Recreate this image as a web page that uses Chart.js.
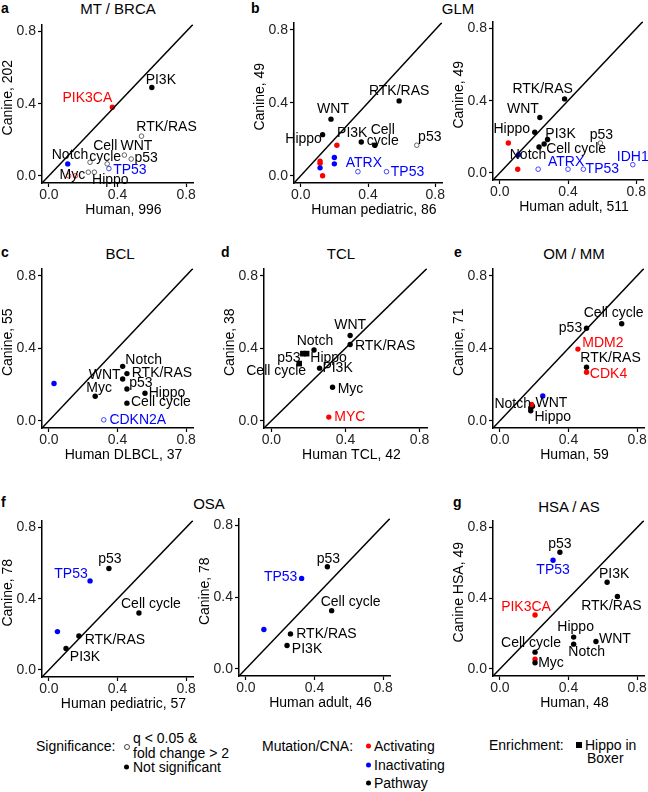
<!DOCTYPE html>
<html>
<head>
<meta charset="utf-8">
<script src="https://cdn.jsdelivr.net/npm/chart.js@4.4.1/dist/chart.umd.min.js"></script>
<style>
  body { margin: 0; width: 648px; height: 792px; position: relative; overflow: hidden;
         background: #fff; font-family: "Liberation Sans", Arial, sans-serif; }
  canvas { position: absolute; }
  .t { position: absolute; font-size: 14px; line-height: 1; color: #000; white-space: nowrap; transform: translateY(-50%); }
  .c { transform: translate(-50%, -50%); font-size: 15px; }
  .b { font-weight: bold; }
  .dot { position: absolute; width: 5px; height: 5px; border-radius: 50%; transform: translateY(-50%); }
</style>
</head>
<body>

<!-- panel letters + titles -->
<div class="t b" style="left:1px;top:8px">a</div>
<div class="t c" style="left:118px;top:8px">MT / BRCA</div>
<div class="t b" style="left:251px;top:8px">b</div>
<div class="t c" style="left:458px;top:8px">GLM</div>
<div class="t b" style="left:1px;top:252px">c</div>
<div class="t c" style="left:120px;top:253px">BCL</div>
<div class="t b" style="left:221px;top:252px">d</div>
<div class="t c" style="left:341px;top:253px">TCL</div>
<div class="t b" style="left:454px;top:252px">e</div>
<div class="t c" style="left:574px;top:253px">OM / MM</div>
<div class="t b" style="left:1px;top:502px">f</div>
<div class="t c" style="left:209px;top:503px">OSA</div>
<div class="t b" style="left:453px;top:502px">g</div>
<div class="t c" style="left:569px;top:506px">HSA / AS</div>

<!-- legend -->
<div class="t" style="left:36px;top:746px">Significance:</div>
<div class="dot" style="left:124px;top:747px;width:4px;height:4px;border:1px solid #444"></div>
<div class="t" style="left:133px;top:738px">q &lt; 0.05 &amp;</div>
<div class="t" style="left:133px;top:753px">fold change &gt; 2</div>
<div class="dot" style="left:124px;top:767px;background:#000"></div>
<div class="t" style="left:133px;top:767px">Not significant</div>

<div class="t" style="left:262px;top:746px">Mutation/CNA:</div>
<div class="dot" style="left:366px;top:746px;background:#f00"></div>
<div class="t" style="left:374px;top:746px">Activating</div>
<div class="dot" style="left:366px;top:765px;background:#00f"></div>
<div class="t" style="left:374px;top:765px">Inactivating</div>
<div class="dot" style="left:366px;top:783px;background:#000"></div>
<div class="t" style="left:374px;top:783px">Pathway</div>

<div class="t" style="left:489px;top:745px">Enrichment:</div>
<div class="dot" style="left:576px;top:745px;width:6px;height:6px;border-radius:0;background:#000"></div>
<div class="t" style="left:585px;top:745px">Hippo in</div>
<div class="t" style="left:587px;top:758px">Boxer</div>

<script>
// ── Data ─────────────────────────────────────────────────────
// kind: P = pathway, A = activating gene, I = inactivating gene
// sig:  1 = q < 0.05 & fold change > 2 (open circle)

const tickValues = [0, 0.4, 0.8];

// a – MT / BRCA
const aNames  = ['PI3K', 'PIK3CA', 'RTK/RAS', 'WNT', 'p53', 'Cell\ncycle', 'Notch', 'TP53', 'Myc', 'Hippo', '', '', ''];
const aHuman  = [0.60, 0.37, 0.54, 0.44, 0.48, 0.34, 0.24, 0.35, 0.23, 0.265, 0.11, 0.115, 0.155];
const aCanine = [0.49, 0.38, 0.22, 0.115, 0.093, 0.066, 0.075, 0.04, 0.02, 0.02, 0.066, 0.0, 0.0];
const aKind   = ['P', 'A', 'P', 'P', 'P', 'P', 'P', 'I', 'P', 'P', 'I', 'A', 'A'];
const aSig    = [0, 0, 1, 1, 1, 1, 1, 1, 1, 1, 0, 1, 1];

// b – GLM, pediatric
const bNames  = ['RTK/RAS', 'WNT', 'Hippo', 'PI3K', 'Cell\ncycle', 'p53', 'ATRX', 'TP53', '', '', '', '', '', '', ''];
const bHuman  = [0.585, 0.18, 0.13, 0.36, 0.44, 0.69, 0.34, 0.51, 0.215, 0.115, 0.115, 0.13, 0.20, 0.20, 0.115];
const bCanine = [0.41, 0.31, 0.225, 0.185, 0.167, 0.167, 0.022, 0.022, 0.167, 0.08, 0.068, 0.0, 0.10, 0.065, 0.043];
const bKind   = ['P', 'P', 'P', 'P', 'P', 'P', 'I', 'I', 'A', 'A', 'A', 'A', 'I', 'I', 'I'];
const bSig    = [0, 0, 0, 0, 0, 1, 1, 1, 0, 0, 0, 0, 0, 0, 0];

// b – GLM, adult
const b2Names  = ['RTK/RAS', 'WNT', 'Hippo', 'PI3K', 'Cell cycle', 'Notch', 'p53', 'ATRX', '', 'TP53', 'IDH1', '', '', ''];
const b2Human  = [0.38, 0.235, 0.205, 0.28, 0.26, 0.23, 0.59, 0.225, 0.40, 0.49, 0.78, 0.11, 0.05, 0.105];
const b2Canine = [0.41, 0.307, 0.225, 0.185, 0.16, 0.143, 0.165, 0.02, 0.02, 0.02, 0.045, 0.10, 0.165, 0.02];
const b2Kind   = ['P', 'P', 'P', 'P', 'P', 'P', 'P', 'I', 'I', 'I', 'I', 'I', 'A', 'A'];
const b2Sig    = [0, 0, 0, 0, 0, 0, 1, 1, 1, 1, 1, 0, 0, 0];

// c – BCL
const cNames  = ['Notch', 'RTK/RAS', 'WNT', 'Myc', 'p53', 'Hippo', 'Cell cycle', 'CDKN2A', ''];
const cHuman  = [0.43, 0.455, 0.43, 0.27, 0.455, 0.56, 0.455, 0.32, 0.03];
const cCanine = [0.30, 0.26, 0.23, 0.135, 0.175, 0.152, 0.097, 0.005, 0.205];
const cKind   = ['P', 'P', 'P', 'P', 'P', 'P', 'P', 'I', 'I'];
const cSig    = [0, 0, 0, 0, 0, 0, 0, 1, 0];

// d – TCL
const dNames  = ['WNT', 'RTK/RAS', 'Notch', 'p53', 'Hippo', 'Cell cycle', 'PI3K', 'Myc', 'MYC'];
const dHuman  = [0.425, 0.425, 0.23, 0.17, 0.19, 0.15, 0.26, 0.33, 0.31];
const dCanine = [0.47, 0.42, 0.39, 0.37, 0.37, 0.315, 0.29, 0.185, 0.02];
const dKind   = ['P', 'P', 'P', 'P', 'P', 'P', 'P', 'P', 'A'];
const dSig    = [0, 0, 0, 0, 0, 0, 0, 0, 0];
const dBoxer  = [0, 0, 0, 1, 1, 1, 0, 0, 0];

// e – OM / MM
const eNames  = ['Cell cycle', 'p53', 'MDM2', 'RTK/RAS', 'CDK4', '', 'Notch', 'WNT', 'Hippo', ''];
const eHuman  = [0.71, 0.505, 0.455, 0.505, 0.505, 0.25, 0.18, 0.19, 0.18, 0.185];
const eCanine = [0.535, 0.51, 0.395, 0.295, 0.267, 0.137, 0.07, 0.08, 0.055, 0.09];
const eKind   = ['P', 'P', 'A', 'P', 'A', 'I', 'P', 'P', 'P', 'A'];
const eSig    = [0, 0, 0, 0, 0, 0, 0, 0, 0, 0];

// f – OSA, pediatric
const fNames  = ['p53', 'TP53', 'Cell cycle', '', 'RTK/RAS', 'PI3K'];
const fHuman  = [0.35, 0.24, 0.525, 0.05, 0.175, 0.10];
const fCanine = [0.57, 0.50, 0.32, 0.215, 0.19, 0.12];
const fKind   = ['P', 'I', 'P', 'I', 'P', 'P'];
const fSig    = [0, 0, 0, 0, 0, 0];

// f – OSA, adult
const f2Names  = ['p53', 'TP53', 'Cell cycle', '', 'RTK/RAS', 'PI3K'];
const f2Human  = [0.475, 0.325, 0.50, 0.105, 0.26, 0.24];
const f2Canine = [0.57, 0.505, 0.325, 0.22, 0.195, 0.13];
const f2Kind   = ['P', 'I', 'P', 'I', 'P', 'P'];
const f2Sig    = [0, 0, 0, 0, 0, 0];

// g – HSA / AS
const gNames  = ['p53', 'TP53', 'PI3K', 'RTK/RAS', 'PIK3CA', 'Hippo', 'Notch', 'WNT', 'Cell cycle', '', 'Myc'];
const gHuman  = [0.35, 0.31, 0.625, 0.685, 0.205, 0.43, 0.43, 0.56, 0.205, 0.205, 0.205];
const gCanine = [0.66, 0.615, 0.49, 0.41, 0.305, 0.18, 0.14, 0.155, 0.095, 0.055, 0.035];
const gKind   = ['P', 'I', 'P', 'P', 'A', 'P', 'P', 'P', 'P', 'A', 'P'];
const gSig    = [0, 0, 0, 0, 0, 0, 0, 0, 0, 0, 0];

// ── Layout (label offsets in px from the point) ──────────────
const aLabelAt  = [[9,-7], [-25,-9], [25,-9], [12,-9], [15,-1], [-2,-8], [-20,-7], [21,2], [-16,3], [16,8]];
const bLabelAt  = [[0,-10], [2,-10], [-19,5], [-9,-9], [8,-6], [13,-8], [6,-9], [21,0]];
const b2LabelAt = [[-22,-10], [-17,-8], [-23,-3], [13,-5], [32,5], [-11,8], [1,-8], [28,-7], null, [19,0], [0,-8]];
const cLabelAt  = [[21,-6], [35,0], [-18,-4], [4,-8], [14,-6], [22,0], [34,-1], [34,0]];
const dLabelAt  = [[0,-10], [35,2], [1,-9], [-14,4], [22,4], [-23,8], [18,0], [18,2], [21,0]];
const eLabelAt  = [[-8,-11], [-16,0], [25,-6], [24,-9], [22,2], null, [-18,-4], [19,-3], [22,6]];
const fLabelAt  = [[1,-9], [-19,-7], [12,-9], null, [36,4], [19,9]];
const f2LabelAt = [[1,-8], [-21,-1], [19,-8], null, [36,0], [20,4]];
const gLabelAt  = [[0,-8], [0,10], [7,-8], [-6,10], [-9,-8], [2,-10], [13,8], [19,-2], [-4,-9], null, [16,0]];

const AXIS_MIN = -0.04, AXIS_MAX = 0.84;
const Y_AXIS_W = 42, X_AXIS_H = 36, PAD_TOP = 8, PAD_RIGHT = 22;
const COLOURS = { P: '#000000', A: '#ff0000', I: '#0000ff' };
const OPEN_COLOURS = { P: '#555555', A: '#ff2020', I: '#3030ff' };
const FONT = '14px "Liberation Sans", Arial, sans-serif';

const panels = [
  { box: [42, 22, 193, 183],  x: 'Human, 996',          y: 'Canine, 202',    names: aNames,  hx: aHuman,  cy: aCanine,  kind: aKind,  sig: aSig,  at: aLabelAt },
  { box: [294, 20, 442, 183], x: 'Human pediatric, 86', y: 'Canine, 49',     names: bNames,  hx: bHuman,  cy: bCanine,  kind: bKind,  sig: bSig,  at: bLabelAt },
  { box: [493, 19, 643, 180], x: 'Human adult, 511',    y: 'Canine, 49',     names: b2Names, hx: b2Human, cy: b2Canine, kind: b2Kind, sig: b2Sig, at: b2LabelAt },
  { box: [42, 266, 193, 428], x: 'Human DLBCL, 37',     y: 'Canine, 55',     names: cNames,  hx: cHuman,  cy: cCanine,  kind: cKind,  sig: cSig,  at: cLabelAt },
  { box: [264, 266, 427, 428],x: 'Human TCL, 42',       y: 'Canine, 38',     names: dNames,  hx: dHuman,  cy: dCanine,  kind: dKind,  sig: dSig,  at: dLabelAt, boxer: dBoxer },
  { box: [493, 266, 644, 428],x: 'Human, 59',           y: 'Canine, 71',     names: eNames,  hx: eHuman,  cy: eCanine,  kind: eKind,  sig: eSig,  at: eLabelAt },
  { box: [42, 518, 193, 677], x: 'Human pediatric, 57', y: 'Canine, 78',     names: fNames,  hx: fHuman,  cy: fCanine,  kind: fKind,  sig: fSig,  at: fLabelAt },
  { box: [239, 516, 390, 676],x: 'Human adult, 46',     y: 'Canine, 78',     names: f2Names, hx: f2Human, cy: f2Canine, kind: f2Kind, sig: f2Sig, at: f2LabelAt },
  { box: [493, 518, 645, 676],x: 'Human, 48',           y: 'Canine HSA, 49', names: gNames,  hx: gHuman,  cy: gCanine,  kind: gKind,  sig: gSig,  at: gLabelAt },
];

// ── Chart setup ──────────────────────────────────────────────
Chart.defaults.font.family = '"Liberation Sans", Arial, sans-serif';
Chart.defaults.font.size = 14;
Chart.defaults.color = '#000';
Chart.defaults.animation = false;

// draws gene / pathway names next to their points, plus the axis titles
// (titles sit slightly right / up of the plot centre, as in the figure)
const pointLabels = {
  id: 'pointLabels',
  afterDatasetsDraw(chart, args, opts) {
    const meta = chart.getDatasetMeta(1);
    const pts = chart.data.datasets[1].data;
    const area = chart.chartArea;
    const ctx = chart.ctx;
    ctx.save();
    ctx.font = FONT;
    ctx.textAlign = 'center';
    ctx.textBaseline = 'middle';
    meta.data.forEach((el, i) => {
      const p = pts[i];
      if (!p.name || !p.at) return;
      const lines = p.name.split('\n');
      ctx.fillStyle = COLOURS[p.kind];
      lines.forEach((ln, k) => {
        ctx.fillText(ln, el.x + p.at[0], el.y + p.at[1] + (k - (lines.length - 1) / 2) * 11 - (lines.length - 1) * 4);
      });
    });

    ctx.fillStyle = '#000';
    ctx.fillText(opts.xTitle, (area.left + area.right) / 2 + 6, area.bottom + 27);
    ctx.translate(area.left - 34, (area.top + area.bottom) / 2 - 6);
    ctx.rotate(-Math.PI / 2);
    ctx.fillText(opts.yTitle, 0, 0);
    ctx.restore();
  }
};

function axisOptions(horizontal) {
  return {
    type: 'linear',
    min: AXIS_MIN,
    max: AXIS_MAX,
    afterBuildTicks: ax => { ax.ticks = tickValues.map(v => ({ value: v })); },
    afterFit: s => { if (horizontal) s.height = X_AXIS_H; else s.width = Y_AXIS_W; },
    ticks: { callback: v => v.toFixed(1), color: '#222', padding: horizontal ? 0 : 2,
             maxRotation: 0, autoSkip: false, font: { size: 14 } },
    grid: { drawOnChartArea: false, tickLength: 4, tickColor: '#000', tickWidth: 1.2 },
    border: { display: true, color: '#000', width: 1.5 },
    title: { display: false },
  };
}

function drawPanel(p) {
  const [L, T, R, B] = p.box;
  const left = L - Y_AXIS_W;
  const top = T - PAD_TOP;
  const right = Math.min(R + PAD_RIGHT, 648);
  const canvas = document.createElement('canvas');
  canvas.width = right - left;
  canvas.height = B + X_AXIS_H - top;
  canvas.style.left = left + 'px';
  canvas.style.top = top + 'px';
  document.body.appendChild(canvas);

  const points = p.hx.map((x, i) => ({
    x, y: p.cy[i], name: p.names[i], kind: p.kind[i], sig: p.sig[i],
    boxer: p.boxer ? p.boxer[i] : 0, at: p.at[i] || null,
  }));

  new Chart(canvas, {
    type: 'scatter',
    data: {
      datasets: [
        {
          data: [{ x: AXIS_MIN, y: AXIS_MIN }, { x: AXIS_MAX, y: AXIS_MAX }],
          showLine: true, borderColor: '#000', borderWidth: 1.5, pointRadius: 0,
        },
        {
          data: points,
          pointStyle: c => (c.raw && c.raw.boxer ? 'rect' : 'circle'),
          pointRadius: c => (c.raw.boxer ? 4 : c.raw.sig ? 2.3 : 2.7),
          pointBackgroundColor: c => (c.raw.sig ? 'rgba(0,0,0,0)' : COLOURS[c.raw.kind]),
          pointBorderColor: c => (c.raw.sig ? OPEN_COLOURS[c.raw.kind] : COLOURS[c.raw.kind]),
          pointBorderWidth: c => (c.raw.sig ? 0.9 : 0),
          clip: false,
        },
      ],
    },
    options: {
      responsive: false,
      devicePixelRatio: 1,
      layout: { padding: { top: PAD_TOP, right: right - R, left: 0, bottom: 0 } },
      plugins: {
        legend: { display: false },
        tooltip: { enabled: false },
        pointLabels: { xTitle: p.x, yTitle: p.y },
      },
      scales: { x: axisOptions(true), y: axisOptions(false) },
    },
    plugins: [pointLabels],
  });
}

panels.forEach(drawPanel);
</script>
</body>
</html>
